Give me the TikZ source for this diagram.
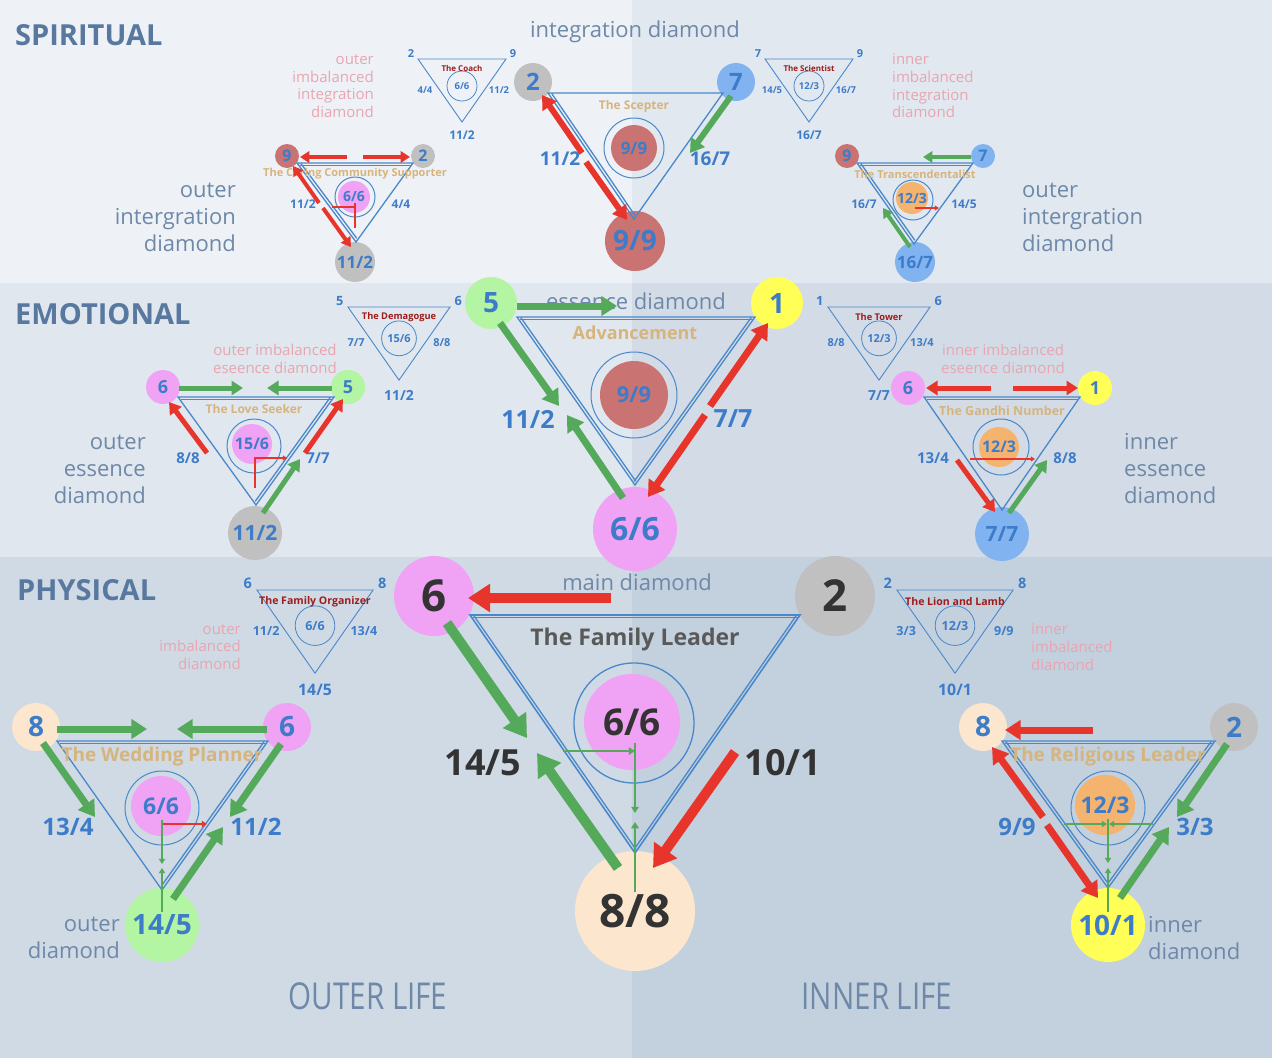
\documentclass[tikz,border=0pt]{standalone}
\usepackage{fontspec}
\setmainfont{Open Sans}
\usetikzlibrary{arrows.meta,calc}

\definecolor{bgsl}{HTML}{EEF2F7}
\definecolor{bgsr}{HTML}{E2E8EF}
\definecolor{bgel}{HTML}{E0E7EE}
\definecolor{bger}{HTML}{D3DCE6}
\definecolor{bgpl}{HTML}{CFDAE5}
\definecolor{bgpr}{HTML}{C3D0DE}
\definecolor{tblue}{HTML}{3D7CC9}
\definecolor{lblue}{HTML}{4A88C9}
\definecolor{agreen}{HTML}{55A95B}
\definecolor{ared}{HTML}{E8352B}
\definecolor{ctan}{HTML}{D6B47C}
\definecolor{dred}{HTML}{9E1C1C}
\definecolor{pinklbl}{HTML}{E9A5B0}
\definecolor{graylbl}{HTML}{6E88A8}
\definecolor{secblue}{HTML}{5878A0}
\definecolor{cgray}{HTML}{C0C0C0}
\definecolor{cblue}{HTML}{80B3F0}
\definecolor{cred}{HTML}{C97373}
\definecolor{cpink}{HTML}{F0A2F5}
\definecolor{cgreen}{HTML}{B3F5A2}
\definecolor{cyellow}{HTML}{FFFF58}
\definecolor{cpeach}{HTML}{FCE6CD}
\definecolor{corange}{HTML}{F4B36F}
\definecolor{dark}{HTML}{333333}

\newcommand{\fsz}[1]{\fontsize{#1}{#1}\selectfont}
% second line of a doubled side, drawn inside the triangle
\newcommand{\twin}[2]{\draw[triline, shorten <=2.5pt, shorten >=2.5pt] ($(#1)!2.8pt!-90:(#2)$) -- ($(#2)!2.8pt!90:(#1)$);}
% small reference triangle: name, title, centre, top left, top right, left, right, bottom
\newcommand{\minitri}[8]{%
  \coordinate (#1a) at (-44,0); \coordinate (#1b) at (44,0); \coordinate (#1c) at (0,63);
  \draw[triline, line width=0.9pt] (#1a) -- (#1b) -- (#1c) -- cycle;
  \node[ring, line width=0.8pt, minimum size=30pt] (#1o) at (0,27) {};
  \node[num, font=\bfseries\fsz{9.5}] (#1m) at (0,27) {#3};
  \node[minititle] (#1t) at (0,9) {#2};
  \node[num, font=\bfseries\fsz{11}] (#1tl) at (-51,-5) {#4};
  \node[num, font=\bfseries\fsz{11}] (#1tr) at (51,-5) {#5};
  \node[num, font=\bfseries\fsz{9.5}] (#1l) at (-37,31) {#6};
  \node[num, font=\bfseries\fsz{9.5}] (#1r) at (37,31) {#7};
  \node[num, font=\bfseries\fsz{12}] (#1bt) at (0,76) {#8};
}

\begin{document}
\begin{tikzpicture}[x=1pt, y=-1pt,
    triline/.style={draw=lblue, line width=1.3pt},
    vtx/.style={circle, inner sep=0pt, text=tblue},
    ring/.style={circle, draw=lblue, line width=1pt, inner sep=0pt},
    num/.style={text=tblue, inner sep=0pt},
    ctitle/.style={text=ctan, inner sep=0pt},
    minititle/.style={text=dred, inner sep=0pt, font=\bfseries\fsz{8}},
    glabel/.style={text=graylbl, inner sep=0pt, font=\fontsize{22}{27}\selectfont},
    plabel/.style={text=pinklbl, inner sep=0pt, font=\fontsize{15}{17.7}\selectfont},
    sectitle/.style={text=secblue, inner sep=0pt, anchor=west, font=\bfseries\fsz{29}},
    gflow/.style={draw=agreen, line width=#1, -{Triangle[length=1pt 2.1, width=1pt 2.6]}},
    rflow/.style={draw=ared, line width=#1, -{Triangle[length=1pt 2.1, width=1pt 2.6]}}
]

% bands
\fill[bgsl] (0,0) rectangle (632,283);
\fill[bgsr] (632,0) rectangle (1272,283);
\fill[bgel] (0,283) rectangle (632,557);
\fill[bger] (632,283) rectangle (1272,557);
\fill[bgpl] (0,557) rectangle (632,1058);
\fill[bgpr] (632,557) rectangle (1272,1058);
\useasboundingbox (0,0) rectangle (1272,1058);

% section titles
\node[sectitle] (spirit) at (15,35) {SPIRITUAL};
\node[sectitle] (emot) at (15,314) {EMOTIONAL};
\node[sectitle] (phys) at (17,590) {PHYSICAL};
\node[text=graylbl, font=\fsz{37}] (outlife) at (368,996) {\scalebox{0.8}[1]{OUTER LIFE}};
\node[text=graylbl, font=\fsz{37}] (inlife) at (877,996) {\scalebox{0.8}[1]{INNER LIFE}};

% side labels
\node[glabel, align=right, anchor=east] (oid) at (236,217) {outer\\intergration\\diamond};
\node[glabel, align=left, anchor=west] (oid2) at (1022,217) {outer\\intergration\\diamond};
\node[glabel, align=right, anchor=east] (oed) at (146,469) {outer\\essence\\diamond};
\node[glabel, align=left, anchor=west] (ied) at (1124,469) {inner\\essence\\diamond};
\node[glabel, align=right, anchor=east] (od) at (120,938) {outer\\diamond};
\node[glabel, align=left, anchor=west] (id) at (1148,938) {inner\\diamond};
\node[plabel, align=right, anchor=east] (oii) at (374,86) {outer\\imbalanced\\integration\\diamond};
\node[plabel, align=left, anchor=west] (iii) at (892,86) {inner\\imbalanced\\integration\\diamond};
\node[plabel, align=center] (oie) at (275,359) {outer imbalanced\\eseence diamond};
\node[plabel, align=center] (iie) at (1003,359) {inner imbalanced\\eseence diamond};
\node[plabel, align=right, anchor=east] (oim) at (241,647) {outer\\imbalanced\\diamond};
\node[plabel, align=left, anchor=west] (iim) at (1031,647) {inner\\imbalanced\\diamond};

% small reference triangles
\begin{scope}[shift={(462,59)}]
  \minitri{coach}{The Coach}{6/6}{2}{9}{4/4}{11/2}{11/2}
\end{scope}
\begin{scope}[shift={(809,59)}]
  \minitri{sci}{The Scientist}{12/3}{7}{9}{14/5}{16/7}{16/7}
\end{scope}
\begin{scope}[shift={(399,307)}, scale=1.16, transform shape]
  \minitri{dem}{The Demagogue}{15/6}{5}{6}{7/7}{8/8}{11/2}
\end{scope}
\begin{scope}[shift={(879,307)}, scale=1.16, transform shape]
  \minitri{tow}{The Tower}{12/3}{1}{6}{8/8}{13/4}{7/7}
\end{scope}
\begin{scope}[shift={(315,590)}, scale=1.32, transform shape]
  \minitri{org}{The Family Organizer}{6/6}{6}{8}{11/2}{13/4}{14/5}
\end{scope}
\begin{scope}[shift={(955,590)}, scale=1.32, transform shape]
  \minitri{lion}{The Lion and Lamb}{12/3}{2}{8}{3/3}{9/9}{10/1}
\end{scope}

% ===== spiritual: integration diamond =====
\node[glabel] (sit) at (635,32) {integration diamond};
\node[vtx, fill=cgray, minimum size=38pt, font=\bfseries\fsz{24}] (s2) at (533,82) {2};
\node[vtx, fill=cblue, minimum size=38pt, font=\bfseries\fsz{24}] (s7) at (736,82) {7};
\node[vtx, fill=cred, minimum size=60pt, font=\bfseries\fsz{28}] (s9) at (635,241) {9/9};
\coordinate (sia) at (548,93); \coordinate (sib) at (723,93); \coordinate (sic) at (634,219);
\draw[triline] (sia) -- (sib) -- (sic) -- cycle; \twin{sic}{sia}
\node[ctitle, font=\bfseries\fsz{12}] (sct) at (634,106) {The Scepter};
\node[ring, minimum size=60pt] (sio) at (634,148) {};
\node[vtx, fill=cred, minimum size=46pt, font=\bfseries\fsz{17}] (sim) at (634,148) {9/9};
\node[num, font=\bfseries\fsz{19}] (sil) at (560,159) {11/2};
\node[num, font=\bfseries\fsz{19}] (sir) at (710,159) {16/7};
\draw[rflow=6pt] (582,153) -- (542,95);
\draw[rflow=6pt] (586,162) -- (627,220);
\draw[gflow=6pt] (731,96) -- (690,153);

% outer integration diamond
\node[vtx, fill=cred, minimum size=24pt, font=\bfseries\fsz{16}] (sl9) at (287,156) {9};
\node[vtx, fill=cgray, minimum size=24pt, font=\bfseries\fsz{16}] (sl2) at (423,156) {2};
\node[vtx, fill=cgray, minimum size=40pt, font=\bfseries\fsz{17}] (sl11) at (355,262) {11/2};
\coordinate (sla) at (297,163); \coordinate (slb) at (413,163); \coordinate (slc) at (356,242);
\draw[triline] (sla) -- (slb) -- (slc) -- cycle; \twin{sla}{slb} \twin{slc}{sla}
\node[ctitle, font=\bfseries\fsz{11}] (slt) at (355,174) {The Caring Community Supporter};
\node[ring, minimum size=40pt] (slo) at (355,197) {};
\node[vtx, fill=cpink, minimum size=32pt, font=\bfseries\fsz{14}] (slm) at (354,197) {6/6};
\node[num, font=\bfseries\fsz{12}] (sll) at (303,204) {11/2};
\node[num, font=\bfseries\fsz{12}] (slr) at (401,204) {4/4};
\draw[rflow=4pt] (347,157) -- (300,157);
\draw[rflow=4pt] (363,157) -- (410,157);
\draw[rflow=4pt] (319,203) -- (293,166);
\draw[rflow=4pt] (323,208) -- (351,247);
\draw[ared, line width=1.5pt] (332,207) -- (356,207) (355,203) -- (355,228);

% inner integration diamond
\node[vtx, fill=cred, minimum size=24pt, font=\bfseries\fsz{16}] (sr9) at (847,156) {9};
\node[vtx, fill=cblue, minimum size=24pt, font=\bfseries\fsz{16}] (sr7) at (983,156) {7};
\node[vtx, fill=cblue, minimum size=40pt, font=\bfseries\fsz{17}] (sr16) at (915,262) {16/7};
\coordinate (sra) at (857,163); \coordinate (srb) at (973,163); \coordinate (src) at (914,244);
\draw[triline] (sra) -- (srb) -- (src) -- cycle; \twin{sra}{srb} \twin{src}{sra}
\node[ctitle, font=\bfseries\fsz{11}] (srt) at (915,174) {The Transcendentalist};
\node[ring, minimum size=40pt] (sro) at (913,200) {};
\node[vtx, fill=corange, minimum size=32pt, font=\bfseries\fsz{14}] (srm) at (912,198) {12/3};
\node[num, font=\bfseries\fsz{12}] (srl) at (864,204) {16/7};
\node[num, font=\bfseries\fsz{12}] (srr) at (964,204) {14/5};
\draw[gflow=4pt] (971,157) -- (923,157);
\draw[gflow=4pt] (910,247) -- (883,208);
\draw[rflow=1.5pt] (915,208) -- (939,208);

% ===== emotional: essence diamond =====
\node[glabel] (eet) at (636,301) {essence diamond};
\node[vtx, fill=cgreen, minimum size=52pt, font=\bfseries\fsz{28}] (e5) at (491,303) {5};
\node[vtx, fill=cyellow, minimum size=52pt, font=\bfseries\fsz{28}] (e1) at (777,303) {1};
\node[vtx, fill=cpink, minimum size=84pt, font=\bfseries\fsz{32}] (e6) at (635,529) {6/6};
\coordinate (ea) at (517,317); \coordinate (eb) at (755,317); \coordinate (ec) at (635,485);
\draw[triline] (ea) -- (eb) -- (ec) -- cycle; \twin{ea}{eb} \twin{eb}{ec} \twin{ec}{ea}
\node[ctitle, font=\bfseries\fsz{18}] (ect) at (635,333) {Advancement};
\node[ring, minimum size=86pt] (eo) at (634,395) {};
\node[vtx, fill=cred, minimum size=68pt, font=\bfseries\fsz{22}] (em) at (634,395) {9/9};
\node[num, font=\bfseries\fsz{25}] (el) at (528,419) {11/2};
\node[num, font=\bfseries\fsz{25}] (er) at (733,419) {7/7};
\draw[gflow=7pt] (517,306) -- (617,306);
\draw[gflow=7pt] (500,323) -- (559,406);
\draw[gflow=7pt] (623,498) -- (567,415);
\draw[rflow=7pt] (710,406) -- (768,323);
\draw[rflow=7pt] (705,415) -- (648,497);

% outer essence diamond
\node[vtx, fill=cpink, minimum size=34pt, font=\bfseries\fsz{18}] (el6) at (163,387) {6};
\node[vtx, fill=cgreen, minimum size=34pt, font=\bfseries\fsz{18}] (el5) at (348,387) {5};
\node[vtx, fill=cgray, minimum size=54pt, font=\bfseries\fsz{21}] (el11) at (255,533) {11/2};
\coordinate (ela) at (178,397); \coordinate (elb) at (334,397); \coordinate (elc) at (256,505);
\draw[triline] (ela) -- (elb) -- (elc) -- cycle; \twin{ela}{elb} \twin{elb}{elc}
\node[ctitle, font=\bfseries\fsz{12}] (elt) at (254,409) {The Love Seeker};
\node[ring, minimum size=54pt] (elo) at (254,446) {};
\node[vtx, fill=cpink, minimum size=40pt, font=\bfseries\fsz{16}] (elm) at (252,444) {15/6};
\node[num, font=\bfseries\fsz{15}] (ell) at (188,458) {8/8};
\node[num, font=\bfseries\fsz{15}] (elr) at (318,458) {7/7};
\draw[gflow=5pt] (179,388) -- (243,388);
\draw[gflow=5pt] (332,388) -- (267,388);
\draw[rflow=5pt] (207,453) -- (169,402);
\draw[rflow=5pt] (305,453) -- (343,399);
\draw[gflow=5pt] (263,513) -- (300,459);
\draw[rflow=1.5pt] (255,488) -- (255,458) -- (287,458);

% inner essence diamond
\node[vtx, fill=cpink, minimum size=34pt, font=\bfseries\fsz{18}] (er6) at (908,388) {6};
\node[vtx, fill=cyellow, minimum size=34pt, font=\bfseries\fsz{18}] (er1) at (1095,388) {1};
\node[vtx, fill=cblue, minimum size=54pt, font=\bfseries\fsz{21}] (er7) at (1002,534) {7/7};
\coordinate (era) at (924,397); \coordinate (erb) at (1080,397); \coordinate (erc) at (1002,510);
\draw[triline] (era) -- (erb) -- (erc) -- cycle; \twin{era}{erb}
\node[ctitle, font=\bfseries\fsz{12.5}] (ert) at (1002,411) {The Gandhi Number};
\node[ring, minimum size=56pt] (ero) at (1001,447) {};
\node[vtx, fill=corange, minimum size=40pt, font=\bfseries\fsz{16}] (erm) at (999,447) {12/3};
\node[num, font=\bfseries\fsz{15}] (erl) at (933,458) {13/4};
\node[num, font=\bfseries\fsz{15}] (err) at (1065,458) {8/8};
\draw[rflow=5pt] (991,388) -- (926,388);
\draw[rflow=5pt] (1013,388) -- (1078,388);
\draw[rflow=5pt] (957,460) -- (995,512);
\draw[gflow=5pt] (1009,513) -- (1047,460);
\draw[rflow=1.5pt] (970,459) -- (1035,459);

% ===== physical: main diamond =====
\node[glabel] (pmt) at (637,582) {main diamond};
\node[vtx, fill=cpink, minimum size=80pt, text=dark, font=\bfseries\fsz{44}] (p6) at (434,596) {6};
\node[vtx, fill=cgray, minimum size=80pt, text=dark, font=\bfseries\fsz{44}] (p2) at (835,596) {2};
\node[vtx, fill=cpeach, minimum size=120pt, text=dark, font=\bfseries\fsz{46}] (p8) at (635,911) {8/8};
\coordinate (pa) at (470,615); \coordinate (pb) at (800,615); \coordinate (pc) at (635,853);
\draw[triline, line width=1.6pt] (pa) -- (pb) -- (pc) -- cycle; \twin{pa}{pb} \twin{pb}{pc} \twin{pc}{pa}
\node[text=black!65, inner sep=0pt, font=\bfseries\fsz{23}] (pct) at (635,640) {The Family Leader};
\node[ring, line width=1.3pt, minimum size=120pt] (po) at (634,723) {};
\node[vtx, fill=cpink, minimum size=96pt, text=dark, font=\bfseries\fsz{37}] (pm) at (632,722) {6/6};
\node[text=dark, inner sep=0pt, font=\bfseries\fsz{36}] (pl) at (483,763) {14/5};
\node[text=dark, inner sep=0pt, font=\bfseries\fsz{36}] (pr) at (783,763) {10/1};
\draw[rflow=10pt] (611,598) -- (468,598);
\draw[gflow=10pt] (447,623) -- (527,738);
\draw[gflow=10pt] (618,868) -- (537,753);
\draw[rflow=10pt] (735,752) -- (653,868);
\draw[gflow=2.5pt] (563,751) -- (635,751);
\draw[gflow=2.5pt] (635,743) -- (635,813);
\draw[gflow=2.5pt] (635,892) -- (635,822);

% outer diamond
\node[vtx, fill=cpeach, minimum size=48pt, font=\bfseries\fsz{28}] (pl8) at (36,727) {8};
\node[vtx, fill=cpink, minimum size=48pt, font=\bfseries\fsz{28}] (pl6) at (287,727) {6};
\node[vtx, fill=cgreen, minimum size=74pt, font=\bfseries\fsz{28}] (pl14) at (162,925) {14/5};
\coordinate (pla) at (57,741); \coordinate (plb) at (268,741); \coordinate (plc) at (162,890);
\draw[triline] (pla) -- (plb) -- (plc) -- cycle; \twin{pla}{plb} \twin{plb}{plc}
\node[ctitle, font=\bfseries\fsz{19}] (plt) at (162,757) {The Wedding Planner};
\node[ring, minimum size=74pt] (plo) at (162,808) {};
\node[vtx, fill=cpink, minimum size=60pt, font=\bfseries\fsz{23}] (plm) at (161,806) {6/6};
\node[num, font=\bfseries\fsz{24}] (pll) at (68,827) {13/4};
\node[num, font=\bfseries\fsz{24}] (plr) at (256,827) {11/2};
\draw[gflow=7pt] (57,729) -- (147,729);
\draw[gflow=7pt] (267,729) -- (177,729);
\draw[gflow=7pt] (43,743) -- (95,817);
\draw[gflow=7pt] (281,744) -- (230,817);
\draw[gflow=7pt] (173,899) -- (223,827);
\draw[rflow=2pt] (163,824) -- (207,824);
\draw[gflow=2pt] (162,820) -- (162,864);
\draw[gflow=2pt] (162,912) -- (162,868);

% inner diamond
\node[vtx, fill=cpeach, minimum size=48pt, font=\bfseries\fsz{28}] (pr8) at (983,727) {8};
\node[vtx, fill=cgray, minimum size=48pt, font=\bfseries\fsz{28}] (pr2) at (1234,727) {2};
\node[vtx, fill=cyellow, minimum size=74pt, font=\bfseries\fsz{28}] (pr10) at (1108,925) {10/1};
\coordinate (pra) at (1002,741); \coordinate (prb) at (1215,741); \coordinate (prc) at (1108,888);
\draw[triline] (pra) -- (prb) -- (prc) -- cycle; \twin{pra}{prb} \twin{prb}{prc} \twin{prc}{pra}
\node[ctitle, font=\bfseries\fsz{19}] (prt) at (1108,757) {The Religious Leader};
\node[ring, minimum size=74pt] (pro) at (1108,808) {};
\node[vtx, fill=corange, minimum size=60pt, font=\bfseries\fsz{23}] (prm) at (1105,805) {12/3};
\node[num, font=\bfseries\fsz{24}] (prl) at (1017,827) {9/9};
\node[num, font=\bfseries\fsz{24}] (prr) at (1195,827) {3/3};
\draw[rflow=7pt] (1093,730) -- (1005,730);
\draw[rflow=7pt] (1043,817) -- (992,747);
\draw[rflow=7pt] (1047,825) -- (1098,898);
\draw[gflow=7pt] (1227,744) -- (1177,817);
\draw[gflow=7pt] (1120,898) -- (1169,827);
\draw[gflow=2pt] (1064,824) -- (1107,824);
\draw[gflow=2pt] (1153,824) -- (1109,824);
\draw[gflow=2pt] (1108,819) -- (1108,863);
\draw[gflow=2pt] (1108,912) -- (1108,868);

\end{tikzpicture}
\end{document}
